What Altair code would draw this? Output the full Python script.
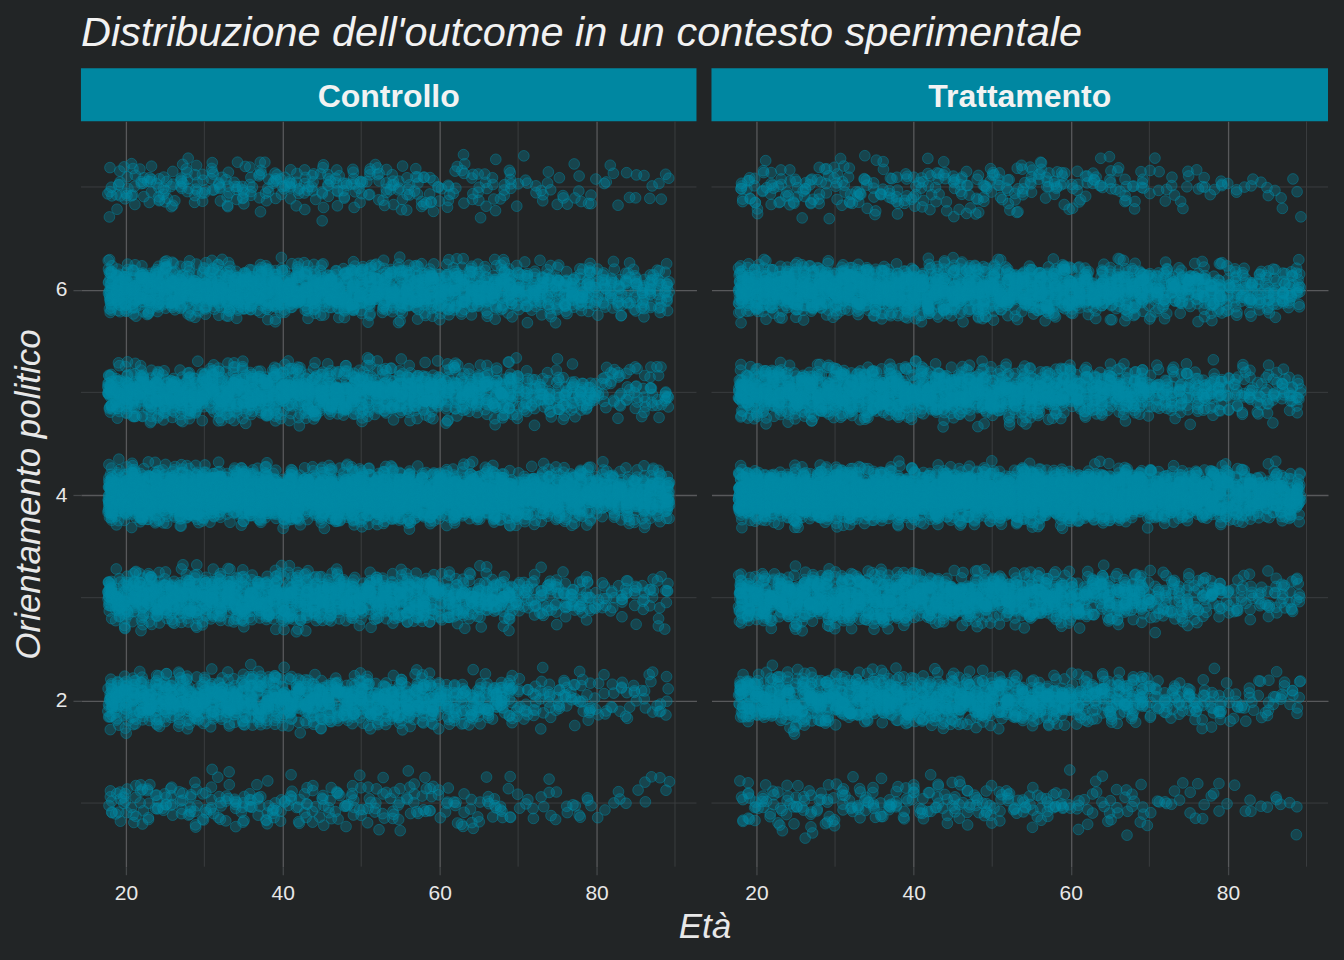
import altair as alt
import pandas as pd
import numpy as np

# ---------------- data ----------------
GROUPS = ["Controllo", "Trattamento"]
LEVELS = [1, 2, 3, 4, 5, 6, 7]
BIN_START = [18, 30, 40, 50, 60, 70, 80]
BIN_END = [29, 39, 49, 59, 69, 79, 89]

# points per single year of age, by age band, for each outcome level (1..7)
CTRL_L1 = [6, 6, 5.5, 5, 3.8, 2.2, 1.3]
CTRL_L2 = [27, 27, 26, 24, 15, 7, 4]
CTRL_L3 = [30, 30, 29, 26, 19, 10, 5.5]
CTRL_L4 = [60, 60, 58, 55, 50, 40, 30]
CTRL_L5 = [32, 32, 31, 28, 22, 13, 7.5]
CTRL_L6 = [35, 35, 34, 31, 27, 20, 13]
CTRL_L7 = [6.5, 6.5, 6.5, 6, 4.5, 2.6, 1.7]

TRT_L1 = [5.5, 5.5, 5.5, 5, 3.5, 2, 1.3]
TRT_L2 = [25, 25, 24, 21, 15, 8, 4.5]
TRT_L3 = [30, 30, 29, 26, 19, 11, 6.5]
TRT_L4 = [60, 60, 58, 55, 50, 41, 31]
TRT_L5 = [32, 32, 31, 28, 23, 14, 9]
TRT_L6 = [35, 35, 34, 31, 27, 20, 13.5]
TRT_L7 = [6, 6, 6, 6, 4.5, 2.5, 1.5]

X_TICKS = [20, 40, 60, 80]
X_MINOR = [30, 50, 70, 90]
Y_TICKS = [2, 4, 6]
Y_MINOR = [1, 3, 5, 7]

TITLE = "Distribuzione dell'outcome in un contesto sperimentale"
X_TITLE = "Età"
Y_TITLE = "Orientamento politico"

# ---------------- build the table ----------------
tables = {
    "Controllo": [CTRL_L1, CTRL_L2, CTRL_L3, CTRL_L4, CTRL_L5, CTRL_L6, CTRL_L7],
    "Trattamento": [TRT_L1, TRT_L2, TRT_L3, TRT_L4, TRT_L5, TRT_L6, TRT_L7],
}
rows = []
for g in GROUPS:
    for lvl, per_year in zip(LEVELS, tables[g]):
        for b0, b1, c in zip(BIN_START, BIN_END, per_year):
            for j, age in enumerate(range(b0, b1 + 1)):
                n = int(np.floor((j + 1) * c) - np.floor(j * c))
                for _ in range(n):
                    rows.append((g, age, lvl))
df = pd.DataFrame(rows, columns=["group", "age", "level"])
df["k"] = np.arange(len(df))

# ---------------- style ----------------
BG = "#222526"
TEAL = "#008aa6"
STRIP = "#0087a1"
MAJOR = "#58595b"
MINORC = "#3a3d3f"
TXT = "#e8e8e8"
FONT = "Liberation Sans"
W1, W2, H, SH = 616, 617, 746, 53
XDOM = [14.27, 92.74]
YDOM = [0.38, 7.64]

xscale = alt.Scale(domain=XDOM, nice=False, zero=False)
yscale = alt.Scale(domain=YDOM, nice=False, zero=False)


def x_axis(first):
    kw = dict(values=X_TICKS, grid=True, gridColor=MAJOR, gridWidth=1.3,
              ticks=True, tickColor="#444749", tickSize=8, tickWidth=1.3,
              domain=False, labelFont=FONT, labelFontSize=21, labelColor=TXT,
              labelPadding=8)
    if first:
        kw.update(title=X_TITLE, titleFont=FONT, titleFontSize=35,
                  titleFontStyle="italic", titleFontWeight="normal",
                  titleColor=TXT, titleX=624, titleY=71, titleAlign="center",
                  titleBaseline="alphabetic", titleAngle=0)
    else:
        kw.update(title=None)
    return alt.Axis(**kw)


def y_axis(first):
    if first:
        return alt.Axis(values=Y_TICKS, grid=True, gridColor=MAJOR, gridWidth=1.3,
                        ticks=True, tickColor="#444749", tickSize=8, tickWidth=1.3,
                        domain=False, labelFont=FONT, labelFontSize=21,
                        labelColor=TXT, labelPadding=6, title=Y_TITLE,
                        titleFont=FONT, titleFontSize=35, titleFontStyle="italic",
                        titleFontWeight="normal", titleColor=TXT, titlePadding=9)
    return alt.Axis(values=Y_TICKS, grid=True, gridColor=MAJOR, gridWidth=1.3,
                    ticks=False, labels=False, domain=False, title=None)


def panel(g, first, width):
    xa, ya = x_axis(first), y_axis(first)
    vx = alt.Chart(pd.DataFrame({"v": X_MINOR})).mark_rule(
        color=MINORC, strokeWidth=1).encode(
        x=alt.X("v:Q", scale=xscale, axis=xa))
    vy = alt.Chart(pd.DataFrame({"v": Y_MINOR})).mark_rule(
        color=MINORC, strokeWidth=1).encode(
        y=alt.Y("v:Q", scale=yscale, axis=ya))
    pts = alt.Chart(df[df["group"] == g]).transform_calculate(
        ax="datum.age + 0.6*(abs((sin(datum.k*12.9898+1.3)*43758.5453) % 1) - 0.5)",
        ay="datum.level + 0.24*(abs((sin(datum.k*78.233+0.7)*24634.6345) % 1)"
           " + abs((sin(datum.k*39.3468+2.1)*11813.1234) % 1)"
           " + abs((sin(datum.k*91.7137+3.3)*31758.9731) % 1) - 1.5)",
    ).mark_circle(size=115, color=TEAL, fillOpacity=0.32, stroke=TEAL,
                  strokeOpacity=0.45, strokeWidth=1).encode(
        x=alt.X("ax:Q", scale=xscale, axis=xa),
        y=alt.Y("ay:Q", scale=yscale, axis=ya),
    )
    return alt.layer(vx, vy, pts).properties(width=width, height=H)


def strip(label, width):
    d = pd.DataFrame({"g": [label]})
    r = alt.Chart(d).mark_rect(color=STRIP).encode(
        x=alt.value(0), x2=alt.value(width), y=alt.value(0), y2=alt.value(SH))
    t = alt.Chart(d).mark_text(font=FONT, fontSize=32, fontWeight="bold",
                               color="#f2f2f2", baseline="alphabetic",
                               align="center").encode(
        text="g:N", x=alt.value(width / 2), y=alt.value(39))
    return alt.layer(r, t).properties(width=width, height=SH)


chart = alt.concat(
    strip(GROUPS[0], W1), strip(GROUPS[1], W2),
    panel(GROUPS[0], True, W1), panel(GROUPS[1], False, W2),
    columns=2, spacing=alt.RowColnumber(row=0, column=15), bounds="flush",
).properties(
    title=alt.TitleParams(TITLE, anchor="start", frame="group", font=FONT,
                          fontSize=41.5, fontStyle="italic", fontWeight="normal",
                          color="#f2f2f2", offset=14, dx=0),
    padding={"left": 11, "top": 12, "right": 15, "bottom": 15},
).configure(background=BG).configure_view(stroke=None)

chart.save("out.html", embed_options={"renderer": "svg", "actions": False})
